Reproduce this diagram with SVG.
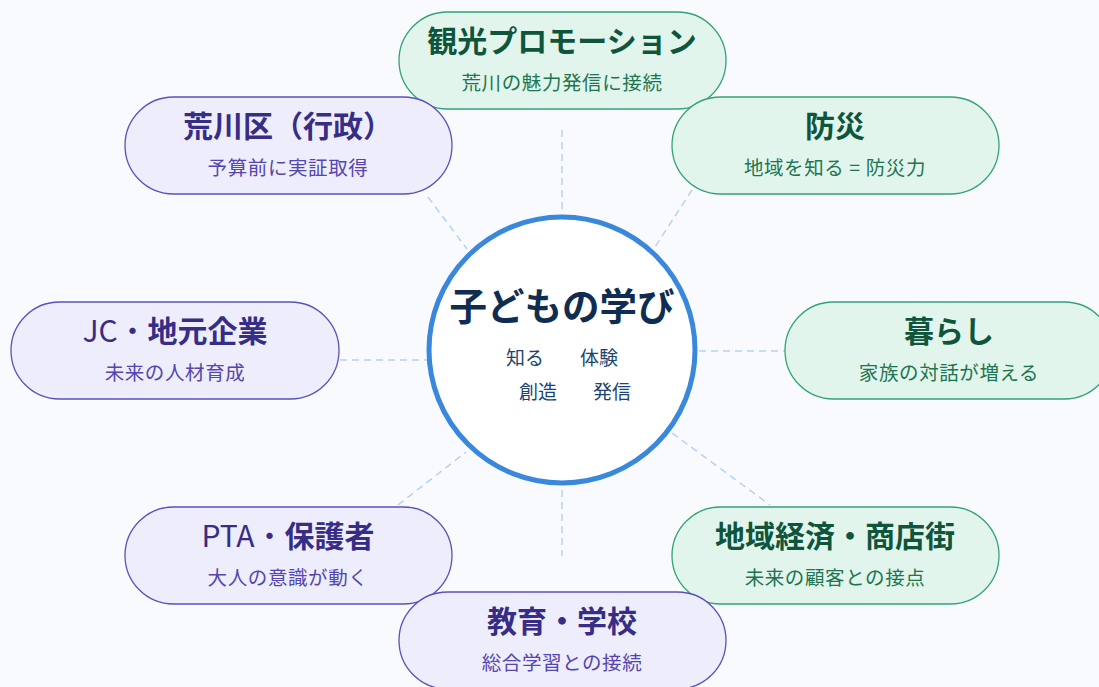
<svg xmlns="http://www.w3.org/2000/svg" width="1099" height="687" viewBox="0 0 1099 687">
<style>
text{font-family:"Noto Sans CJK JP","Noto Sans",sans-serif;text-anchor:middle}
.g rect{fill:#e1f5ec;stroke:#33a377;stroke-width:1.3}
.p rect{fill:#eeedfc;stroke:#5b50c0;stroke-width:1.3}
.g .t{fill:#0f553c;font-size:30px;font-weight:700}
.g .s{fill:#1d7552;font-size:19.5px;letter-spacing:0.6px}
.p .t{fill:#372d86;font-size:30px;font-weight:700}
.p .s{fill:#5445b0;font-size:19.5px;letter-spacing:0.6px}
.n{font-weight:400}
.c line{stroke:#b5d3f0;stroke-width:1.5;stroke-dasharray:7 5}
.k{font-size:19px;fill:#1b4472}
</style>
<rect width="1099" height="687" fill="#f8fafd"/>
<g class="c" id="connectors">
<line x1="562" y1="130" x2="562" y2="214"/>
<line x1="428" y1="197" x2="467" y2="249"/>
<line x1="692" y1="190" x2="655" y2="247"/>
<line x1="340" y1="360" x2="427" y2="360"/>
<line x1="699" y1="351" x2="785" y2="351"/>
<line x1="398" y1="505" x2="466" y2="452"/>
<line x1="672" y1="433" x2="770" y2="505"/>
<line x1="562" y1="490" x2="562" y2="556"/>
</g>
<g id="center">
<circle cx="562" cy="350" r="133" fill="#ffffff" stroke="#3a88db" stroke-width="5"/>
<text x="562" y="320" font-size="37.5" font-weight="700" fill="#0e2d50">子どもの学び</text>
<text class="k" x="525" y="365">知る</text>
<text class="k" x="599" y="365">体験</text>
<text class="k" x="538" y="399">創造</text>
<text class="k" x="612" y="399">発信</text>
</g>
<g id="node-kanko" class="g">
<rect x="399" y="12" width="327" height="97" rx="48.5"/>
<text class="t" x="562" y="52">観光プロモーション</text>
<text class="s" x="562" y="90">荒川の魅力発信に接続</text>
</g>
<g id="node-arakawa" class="p">
<rect x="125" y="97" width="327" height="97" rx="48.5"/>
<text class="t" x="288" y="137">荒川区（行政）</text>
<text class="s" x="288" y="175">予算前に実証取得</text>
</g>
<g id="node-bousai" class="g">
<rect x="672" y="97" width="327" height="97" rx="48.5"/>
<text class="t" x="835" y="137">防災</text>
<text class="s" x="835" y="175">地域を知る = 防災力</text>
</g>
<g id="node-jc" class="p">
<rect x="11" y="302" width="328" height="97" rx="48.5"/>
<text class="t" x="175" y="342"><tspan class="n">JC・</tspan>地元企業</text>
<text class="s" x="175" y="380">未来の人材育成</text>
</g>
<g id="node-kurashi" class="g">
<rect x="785" y="302" width="328" height="97" rx="48.5"/>
<text class="t" x="949" y="342">暮らし</text>
<text class="s" x="949" y="380">家族の対話が増える</text>
</g>
<g id="node-pta" class="p">
<rect x="125" y="507" width="327" height="97" rx="48.5"/>
<text class="t" x="288" y="547"><tspan class="n">PTA・</tspan>保護者</text>
<text class="s" x="288" y="585">大人の意識が動く</text>
</g>
<g id="node-keizai" class="g">
<rect x="672" y="507" width="327" height="97" rx="48.5"/>
<text class="t" x="835" y="547">地域経済・商店街</text>
<text class="s" x="835" y="585">未来の顧客との接点</text>
</g>
<g id="node-kyoiku" class="p">
<rect x="399" y="592" width="327" height="97" rx="48.5"/>
<text class="t" x="562" y="632">教育・学校</text>
<text class="s" x="562" y="670">総合学習との接続</text>
</g>
</svg>
